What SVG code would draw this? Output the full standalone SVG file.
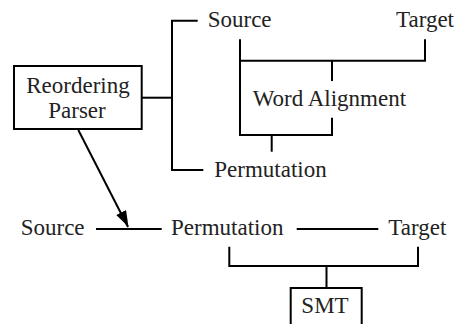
<svg xmlns="http://www.w3.org/2000/svg" width="455" height="324" viewBox="0 0 455 324">
<style>
text{font-family:"Liberation Serif","Times New Roman",serif;font-size:23px;fill:#222}
.ln{fill:none;stroke:#000;stroke-width:2}
.box{fill:#fff;stroke:#000;stroke-width:2}
</style>
<defs>
<marker id="ah" markerUnits="userSpaceOnUse" markerWidth="18" markerHeight="12" refX="16" refY="6" orient="auto">
<path d="M0,0 L16,5.5 L0,11 Z" fill="#000"/>
</marker>
</defs>
<rect width="455" height="324" fill="#fff"/>
<g id="connectors">
<path class="ln" d="M197.7,20.7 H172 V170 H203.3"/>
<path class="ln" d="M141.7,97.7 H172"/>
<path class="ln" d="M240,39.3 V135 H332 V117.7"/>
<path class="ln" d="M240,60.7 H425 V39.3"/>
<path class="ln" d="M332,60.7 V81"/>
<path class="ln" d="M271.7,135 V151.7"/>
<path class="ln" d="M78.3,130 L128,227" marker-end="url(#ah)"/>
<path class="ln" d="M96,229 H161.7"/>
<path class="ln" d="M296.7,229 H378.3"/>
<path class="ln" d="M229.3,246.7 V266 H418 V246.7"/>
<path class="ln" d="M326.5,266 V288"/>
</g>
<g id="reordering-parser">
<rect class="box" x="14" y="66" width="127.7" height="63"/>
<text x="78" y="92.7" text-anchor="middle">Reordering</text>
<text x="77" y="118.3" text-anchor="middle">Parser</text>
</g>
<g id="top-source"><text x="207.7" y="26.7">Source</text></g>
<g id="top-target"><text x="396" y="26.7">Target</text></g>
<g id="word-alignment"><text x="252.7" y="106" font-size="23.5">Word Alignment</text></g>
<g id="top-permutation"><text x="214.3" y="176.7">Permutation</text></g>
<g id="bottom-source"><text x="20.7" y="235">Source</text></g>
<g id="bottom-permutation"><text x="171" y="235">Permutation</text></g>
<g id="bottom-target"><text x="388.3" y="235">Target</text></g>
<g id="smt">
<rect class="box" x="290.7" y="288" width="71" height="42"/>
<text x="325" y="313.3" text-anchor="middle">SMT</text>
</g>
</svg>
